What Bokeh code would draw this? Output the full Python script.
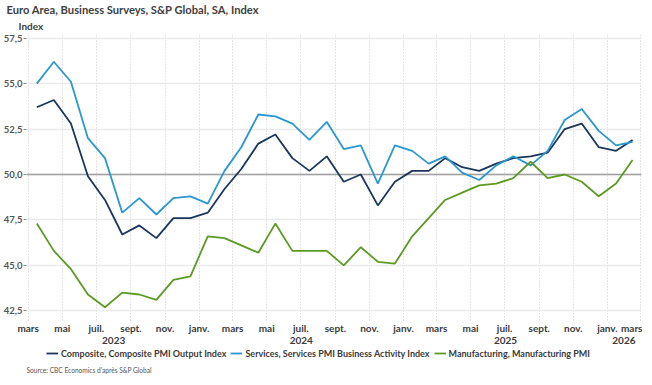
import pandas as pd
from bokeh.plotting import figure
from bokeh.layouts import column
from bokeh.models import (Range1d, FixedTicker, LinearAxis, Legend, LegendItem,
                          Title, Span, ColumnDataSource)
from bokeh.embed import file_html
from bokeh.resources import INLINE

# ---------------- data ----------------
start_month = "2023-03"
n_months = 36
composite = [53.7, 54.1, 52.8, 49.9, 48.6, 46.7, 47.2, 46.5, 47.6, 47.6, 47.9, 49.2,
             50.3, 51.7, 52.2, 50.9, 50.2, 51.0, 49.6, 50.0, 48.3, 49.6, 50.2, 50.2,
             50.9, 50.4, 50.2, 50.6, 50.9, 51.0, 51.2, 52.5, 52.8, 51.5, 51.3, 51.9]
services = [55.0, 56.2, 55.1, 52.0, 50.9, 47.9, 48.7, 47.8, 48.7, 48.8, 48.4, 50.2,
            51.5, 53.3, 53.2, 52.8, 51.9, 52.9, 51.4, 51.6, 49.5, 51.6, 51.3, 50.6,
            51.0, 50.1, 49.7, 50.5, 51.0, 50.5, 51.3, 53.0, 53.6, 52.4, 51.6, 51.8]
manufacturing = [47.3, 45.8, 44.8, 43.4, 42.7, 43.5, 43.4, 43.1, 44.2, 44.4, 46.6, 46.5,
                 46.1, 45.7, 47.3, 45.8, 45.8, 45.8, 45.0, 46.0, 45.2, 45.1, 46.6, 47.6,
                 48.6, 49.0, 49.4, 49.5, 49.8, 50.7, 49.8, 50.0, 49.6, 48.8, 49.5, 50.8]
series_names = ["Composite, Composite PMI Output Index",
                "Services, Services PMI Business Activity Index",
                "Manufacturing, Manufacturing PMI"]
month_tick_labels = ["mars", "mai", "juil.", "sept.", "nov.", "janv."]
year_labels = ["2023", "2024", "2025", "2026"]
y_ticks = [42.5, 45.0, 47.5, 50.0, 52.5, 55.0, 57.5]
y_tick_labels = ["42,5", "45,0", "47,5", "50,0", "52,5", "55,0", "57,5"]
title_text = "Euro Area, Business Surveys, S&P Global, SA, Index"
unit_text = "Index"
source_text = "Source: CBC Economics d'après S&P Global"

# ---------------- styles ----------------
FONT = "Lato"
C_COMP = "#1b365d"
C_SERV = "#2a98cf"
C_MANU = "#5b9a23"
colors = [C_COMP, C_SERV, C_MANU]
columns = ["comp", "serv", "manu"]
TXT = "#3a3a3a"
LW = 1.8

month_starts = pd.date_range(start_month, periods=n_months + 1, freq="MS")
mid = month_starts[:-1] + (month_starts[1:] - month_starts[:-1]) / 2
src = ColumnDataSource(dict(x=mid, comp=composite, serv=services, manu=manufacturing))

x0 = month_starts[0] - pd.Timedelta(days=3)
x1 = month_starts[-1] + pd.Timedelta(days=2)
xr = Range1d(x0, x1)

p = figure(frame_width=615, frame_height=280, output_backend="svg", toolbar_location=None,
           x_axis_type="datetime",
           x_range=xr, y_range=Range1d(42.3, 57.7),
           min_border_left=20, min_border_right=1, min_border_top=0,
           min_border_bottom=0)
p.outline_line_color = None
p.background_fill_color = "white"
p.border_fill_color = "white"

def ms(t):
    return pd.Timestamp(t).value / 1e6

tick_dates = pd.date_range(start_month, month_starts[-1], freq="2MS")
xt = [ms(t) for t in tick_dates]
overrides = {}
for t in tick_dates:
    overrides[ms(t)] = month_tick_labels[((t.month - 3) // 2) % 6]
xa = p.xaxis[0]
xa.ticker = FixedTicker(ticks=xt)
xa.major_label_overrides = overrides
xa.axis_line_color = None
xa.major_tick_line_color = "#c0c0c0"
xa.major_tick_line_dash = "1 2"
xa.major_tick_in = 0
xa.major_tick_out = 6
xa.minor_tick_out = 0
xa.minor_tick_in = 0
xa.minor_tick_line_color = None
xa.major_label_standoff = 1
xa.major_label_text_font = FONT
xa.major_label_text_font_style = "bold"
xa.major_label_text_font_size = "10px"
xa.major_label_text_color = TXT

yr_ticks, yr_over = [], {}
for y in year_labels:
    a = max(pd.Timestamp(f"{y}-01-01"), month_starts[0])
    b = min(pd.Timestamp(f"{int(y)+1}-01-01"), month_starts[-1])
    c = ms(a + (b - a) / 2)
    yr_ticks.append(c)
    yr_over[c] = y
ya2 = LinearAxis(ticker=FixedTicker(ticks=yr_ticks), major_label_overrides=yr_over,
                 axis_line_color=None, major_tick_line_color=None, minor_tick_line_color=None,
                 major_tick_in=0, major_tick_out=0, minor_tick_in=0, minor_tick_out=0,
                 major_label_standoff=0, major_label_text_font=FONT,
                 major_label_text_font_style="bold", major_label_text_font_size="10px",
                 major_label_text_color=TXT)
p.add_layout(ya2, "below")

yaxis = p.yaxis[0]
yaxis.ticker = FixedTicker(ticks=y_ticks)
yaxis.major_label_overrides = dict(zip(y_ticks, y_tick_labels))
yaxis.axis_line_color = None
yaxis.major_tick_in = 0
yaxis.major_tick_out = 3
yaxis.minor_tick_out = 0
yaxis.major_tick_line_color = "#888888"
yaxis.minor_tick_line_color = None
yaxis.major_label_standoff = 1
yaxis.major_label_text_font = FONT
yaxis.major_label_text_font_style = "bold"
yaxis.major_label_text_font_size = "9.5px"
yaxis.major_label_text_color = "#555555"

p.xgrid.grid_line_color = "#c8c8c8"
p.xgrid.grid_line_dash = "1 2"
p.xgrid.grid_line_width = 1
p.ygrid.grid_line_color = "#ebebeb"
p.ygrid.grid_line_width = 1.5

base = Span(location=50.0, dimension="width", line_color="#a0a0a0", line_width=1.5,
            level="underlay")
p.add_layout(base)

for col, c in zip(columns, colors):
    p.line("x", col, source=src, line_color=c, line_width=LW)

p.add_layout(Title(text=unit_text, align="left", offset=-8, standoff=5,
                   text_font=FONT, text_font_style="bold", text_font_size="10px",
                   text_color="#404040"), "above")
p.add_layout(Title(text=title_text, align="left", offset=-20, standoff=0,
                   text_font=FONT, text_font_style="bold", text_font_size="11.2px",
                   text_color="#404040"), "above")

# ---------- legend + source strip (series drawn out of view, legend keys only) ----------
p2 = figure(frame_width=636, frame_height=14, output_backend="svg", toolbar_location=None,
            x_axis_type="datetime", x_range=xr, y_range=Range1d(0, 1),
            x_axis_location=None, y_axis_location=None, min_border=0)
p2.outline_line_color = None
p2.grid.visible = False
keys = [p2.line("x", col, source=src, line_color=c, line_width=LW)
        for col, c in zip(columns, colors)]
legend = Legend(items=[LegendItem(label=n, renderers=[r]) for n, r in zip(series_names, keys)],
                orientation="horizontal", location="center",
                label_text_font=FONT, label_text_font_style="bold",
                label_text_font_size="9px", label_text_color=TXT,
                glyph_width=12, glyph_height=12, label_height=12,
                label_standoff=3, spacing=4, padding=0, margin=0,
                border_line_color=None, background_fill_alpha=0)
p2.add_layout(legend)
p2.add_layout(Title(text=source_text, align="left", offset=0, standoff=7,
                    text_font=FONT, text_font_style="normal", text_font_size="6.6px",
                    text_color="#555555"), "below")

layout = column(p, p2, spacing=0)
open("out.html", "w").write(file_html(layout, INLINE))
